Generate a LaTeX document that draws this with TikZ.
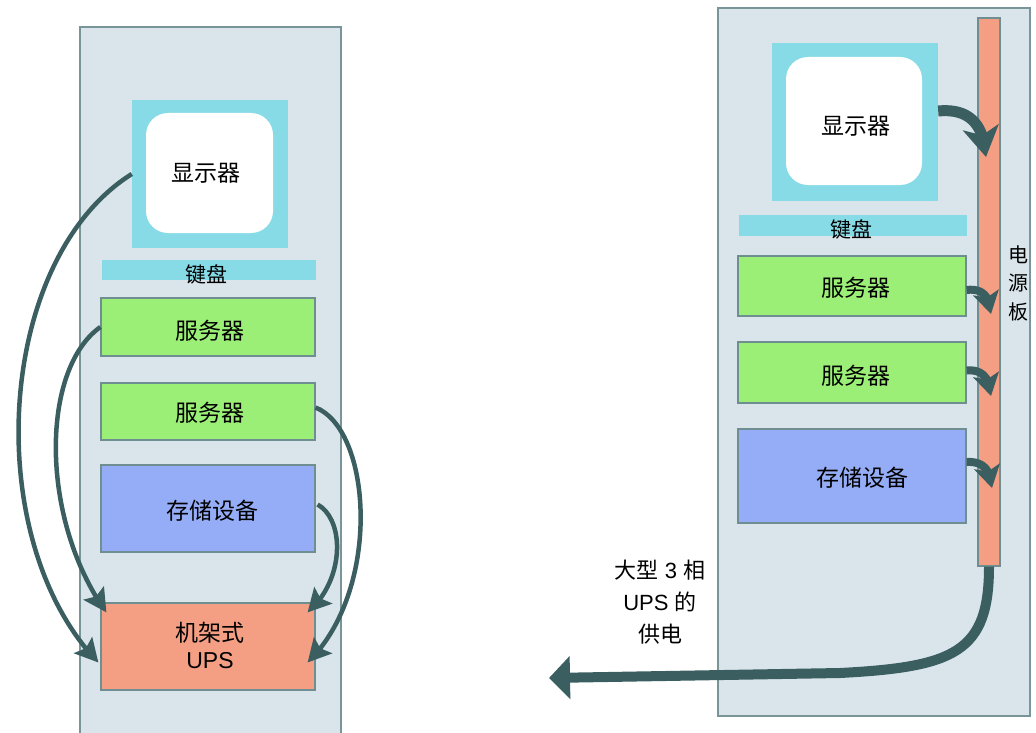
\documentclass[tikz,border=0pt]{standalone}
\usepackage{fontspec}
\setmainfont{Liberation Sans}
\newfontfamily\cjk{Noto Sans CJK SC}
\usetikzlibrary{arrows.meta,bending}
\definecolor{rackfill}{HTML}{D9E5EB}
\definecolor{rackline}{HTML}{7A9598}
\definecolor{boxline}{HTML}{6F8E92}
\definecolor{moncyan}{HTML}{86DBE7}
\definecolor{srvgreen}{HTML}{9BEE76}
\definecolor{stoblue}{HTML}{95ADF6}
\definecolor{upsorange}{HTML}{F49F84}
\definecolor{arrowcol}{HTML}{3B5E60}
\tikzset{
  rack/.style={draw=rackline, fill=rackfill, line width=1.2pt},
  box/.style={draw=boxline, line width=1.2pt, inner sep=0pt},
  txt/.style={inner sep=0pt, font=\fontsize{23}{27}\selectfont, align=center},
  mon/.style={fill=moncyan, inner sep=0pt},
  screen/.style={fill=white, rounded corners=22pt, inner sep=0pt},
  kbd/.style={fill=moncyan, inner sep=0pt},
  lbl/.style={inner sep=0pt, font=\fontsize{22}{32}\selectfont, align=center},
  leftarrow/.style={draw=arrowcol, line width=4.5pt, -{Stealth[length=23pt,width=24pt,inset=4pt]}},
  monarrow/.style={draw=arrowcol, line width=11pt, -{Stealth[length=30pt,width=36pt,inset=8pt]}},
  shortarrow/.style={draw=arrowcol, line width=8pt, -{Stealth[length=22pt,width=26pt,inset=5pt]}},
  bigarrow/.style={draw=arrowcol, line width=10pt, -{Triangle[length=21pt,width=42pt]}},
}
\begin{document}
\begin{tikzpicture}[x=1pt,y=-1pt]
\useasboundingbox (0,0) rectangle (1036,733);
\clip (0,0) rectangle (1036,733);
% ---------- left rack ----------
\draw[rack] (80,27) rectangle (341,745);
\node[mon, minimum width=156pt, minimum height=148pt] (lmonf) at (210,174) {};
\node[screen, minimum width=127pt, minimum height=120pt] (lmon) at (209.5,173) {};
\node[txt] at (206,173) {\cjk 显示器};
\node[kbd, minimum width=214pt, minimum height=20pt] (lkbd) at (209,270) {};
\node[txt, font=\fontsize{21}{24}\selectfont] at (206,274) {\cjk 键盘};
\node[box, fill=srvgreen, minimum width=214pt, minimum height=58pt] (lsrv1) at (208,327) {};
\node[txt] at (210,331) {\cjk 服务器};
\node[box, fill=srvgreen, minimum width=214pt, minimum height=57pt] (lsrv2) at (208,411.5) {};
\node[txt] at (210,413) {\cjk 服务器};
\node[box, fill=stoblue, minimum width=214pt, minimum height=87pt] (lsto) at (208,508.5) {};
\node[txt] at (212,511) {\cjk 存储设备};
\node[box, fill=upsorange, minimum width=214pt, minimum height=87pt] (lups) at (208,646.5) {};
\node[txt] at (210,645) {{\cjk 机架式}\\UPS};
% left arrows
\draw[leftarrow] (lmonf.west) .. controls (-5,260) and (-20,540) .. ([xshift=-2pt,yshift=-16pt]lups.west);
\draw[leftarrow] (lsrv1.west) .. controls (40,370) and (40,520) .. ([xshift=6pt,yshift=-10pt]lups.north west);
\draw[leftarrow] ([yshift=4pt]lsrv2.east) .. controls (372,430) and (382,590) .. ([xshift=-8pt,yshift=-16pt]lups.east);
\draw[leftarrow] ([xshift=2pt,yshift=4pt]lsto.east) .. controls (345,520) and (345,580) .. ([xshift=-8pt,yshift=-10pt]lups.north east);
% ---------- right rack ----------
\draw[rack] (718,8) rectangle (1030,716);
\node[mon, minimum width=166pt, minimum height=158pt] (rmonf) at (855,122) {};
\node[screen, minimum width=136pt, minimum height=128pt] (rmon) at (854,121) {};
\node[txt] at (856,126) {\cjk 显示器};
\node[kbd, minimum width=228pt, minimum height=21pt] (rkbd) at (853,225.5) {};
\node[txt, font=\fontsize{21}{24}\selectfont] at (851,229) {\cjk 键盘};
\node[box, fill=srvgreen, minimum width=228pt, minimum height=60pt] (rsrv1) at (852,286) {};
\node[txt] at (856,288) {\cjk 服务器};
\node[box, fill=srvgreen, minimum width=228pt, minimum height=61pt] (rsrv2) at (852,372.5) {};
\node[txt] at (856,376) {\cjk 服务器};
\node[box, fill=stoblue, minimum width=228pt, minimum height=94pt] (rsto) at (852,476) {};
\node[txt] at (862,478) {\cjk 存储设备};
\node[box, fill=upsorange, minimum width=22pt, minimum height=548pt] (strip) at (989,292) {};
\node[lbl, font=\fontsize{20}{28.5}\selectfont] (striplbl) at (1018,283) {\cjk 电\\\cjk 源\\\cjk 板};
\node[lbl] (supply) at (660,602) {{\cjk 大型} 3 {\cjk 相}\\UPS {\cjk 的}\\{\cjk 供电}};
% right arrows
\coordinate (t0) at (986,157);
\coordinate (t1) at (991,314);
\coordinate (t2) at (991,396);
\coordinate (t3) at (992,488);
\draw[monarrow] ([yshift=11pt]rmonf.east) .. controls (970,108) and (984,125) .. (t0);
\draw[shortarrow] ([yshift=-4pt]rsrv1.east) .. controls (982,288) and (990,296) .. (t1);
\draw[shortarrow] ([yshift=2pt]rsrv2.east) .. controls (982,369) and (990,378) .. (t2);
\draw[shortarrow] ([yshift=14pt]rsto.east) .. controls (983,461) and (991,470) .. (t3);
\coordinate (out) at (549,678);
\draw[bigarrow] (strip.south) .. controls (989,652) and (955,667) .. (840,673) -- (out);
\end{tikzpicture}
\end{document}
